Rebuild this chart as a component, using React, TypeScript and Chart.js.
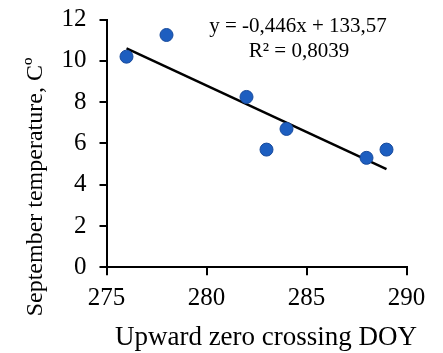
import React, { useEffect, useRef } from "react";
import { Chart, registerables } from "chart.js";

Chart.register(...registerables);

const doyValues = [276, 278, 282, 283, 284, 288, 289];
const temperatureValues = [10.2, 11.25, 8.25, 5.7, 6.7, 5.3, 5.7];
const trendX = [276, 289];
const trendY = [10.6, 4.75];
const equationLines = ["y = -0,446x + 133,57", "R² = 0,8039"];
const xTitle = "Upward zero crossing DOY";
const yTitle = "September temperature, Cº";

const FONT = "'Liberation Serif', 'Times New Roman', serif";

export default function App() {
  const ref = useRef<HTMLCanvasElement | null>(null);

  useEffect(() => {
    if (!ref.current) return;
    const textPlugin = {
      id: "texts",
      afterDraw(chart: any) {
        const ctx = chart.ctx;
        ctx.save();
        ctx.fillStyle = "#000";
        ctx.font = `21px ${FONT}`;
        ctx.textAlign = "center";
        ctx.textBaseline = "alphabetic";
        ctx.fillText(equationLines[0], 298, 32);
        ctx.fillText(equationLines[1], 299, 57);
        ctx.font = `27px ${FONT}`;
        ctx.fillText(xTitle, 266, 345);
        ctx.translate(42, 187);
        ctx.rotate(-Math.PI / 2);
        ctx.font = `24px ${FONT}`;
        ctx.fillText(yTitle, 0, 0);
        ctx.restore();
      },
    };

    const chart = new Chart(ref.current, {
      type: "scatter",
      data: {
        datasets: [
          {
            label: "data",
            data: doyValues.map((x, i) => ({ x, y: temperatureValues[i] })),
            pointRadius: 6.5,
            pointBackgroundColor: "#1D5EC0",
            pointBorderColor: "#174A9C",
            pointBorderWidth: 1,
            showLine: false,
          },
          {
            label: "trend",
            data: trendX.map((x, i) => ({ x, y: trendY[i] })),
            showLine: true,
            borderColor: "#000",
            borderWidth: 2.5,
            pointRadius: 0,
          },
        ],
      },
      options: {
        responsive: false,
        animation: false,
        devicePixelRatio: 1,
        layout: { padding: { left: 0, top: 19.5, right: 36.5, bottom: 0 } },
        plugins: { legend: { display: false }, tooltip: { enabled: false } },
        scales: {
          x: {
            type: "linear",
            min: 275,
            max: 290,
            afterFit(scale: any) {
              scale.height = 353 - 267.3;
              scale.paddingLeft = 0;
              scale.paddingRight = 0;
            },
            ticks: {
              stepSize: 5,
              color: "#000",
              padding: 8,
              font: { family: FONT, size: 25 },
            },
            grid: {
              drawOnChartArea: false,
              drawTicks: true,
              tickLength: 8,
              color: "#000",
              lineWidth: 2,
            },
            border: { display: true, color: "#000", width: 2 },
          },
          y: {
            type: "linear",
            min: 0,
            max: 12,
            afterFit(scale: any) {
              scale.width = 106.5;
              scale.paddingTop = 0;
              scale.paddingBottom = 0;
            },
            ticks: {
              stepSize: 2,
              color: "#000",
              padding: 13,
              font: { family: FONT, size: 25 },
            },
            grid: {
              drawOnChartArea: false,
              drawTicks: true,
              tickLength: 7,
              color: "#000",
              lineWidth: 2,
            },
            border: { display: true, color: "#000", width: 2 },
          },
        },
      },
      plugins: [textPlugin],
    });
    return () => chart.destroy();
  }, []);

  return (
    <div style={{ position: "fixed", left: 0, top: 0, width: 443, height: 353, background: "#fff" }}>
      <canvas ref={ref} width={443} height={353} style={{ width: 443, height: 353 }} />
    </div>
  );
}
